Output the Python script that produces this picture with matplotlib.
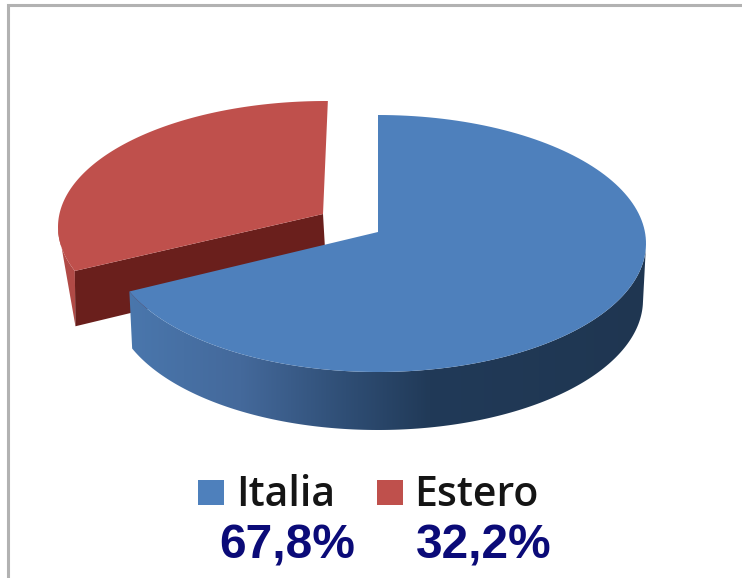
import numpy as np
import matplotlib
matplotlib.use("Agg")
import matplotlib.pyplot as plt
from matplotlib.colors import LinearSegmentedColormap
from matplotlib.patches import Polygon, Rectangle

# Chart data
categories = ["Italia", "Estero"]
shares = [67.8, 32.2]
top_colors = ["#4e80bc", "#bf504c"]

W, H = 742, 578
fig = plt.figure(figsize=(W / 100, H / 100), dpi=100, facecolor="white")
ax = fig.add_axes([0, 0, 1, 1])


def arc(cx, cy, rx, ry, t0, t1, n=160):
    """Points on an ellipse; t is measured clockwise from 12 o'clock, in degrees."""
    t = np.radians(np.linspace(t0, t1, n))
    return np.column_stack([cx + rx * np.sin(t), cy - ry * np.cos(t)])


# Slice angles come from the shares; the tilted view shifts the seam slightly
view_skew = 4.0
split = 360 * shares[0] / sum(shares) + view_skew

# Estero slice, pulled out from the pie
red_top = (326, 227, 268, 126)
red_low = (321, 283, 262, 124)
red_apex = np.array([[323, 214]])
red_t = split + 1.5
tip = arc(*red_top, red_t, red_t, 1)
tip_low = arc(*red_low, red_t, red_t, 1)
ax.add_patch(Polygon(
    np.vstack([arc(*red_top, red_t, 270), tip_low]),
    closed=True, fc="#b14a46", ec="none", zorder=2))
ax.add_patch(Polygon(
    np.vstack([tip, red_apex, [[326, 266]], tip_low]),
    closed=True, fc="#6a1f1c", ec="none", zorder=3))
ax.add_patch(Polygon(
    np.vstack([red_apex, arc(*red_top, red_t, 360.4)]),
    closed=True, fc=top_colors[1], ec="none", zorder=4))

# Italia slice: shaded rim, then the top face
blue_top = (378, 243.5, 268, 128.5)
blue_low = (378, 300, 265, 130)
blue_apex = np.array([[378, 232]])
rim = Polygon(
    np.vstack([arc(*blue_top, 92, split), arc(*blue_low, split, 92)]),
    closed=True, fc="none", ec="none", zorder=5)
ax.add_patch(rim)
rim_cmap = LinearSegmentedColormap.from_list(
    "rim",
    [(0.0, "#4a77ad"), (0.22, "#44699b"), (0.42, "#2f4e75"),
     (0.58, "#213a58"), (1.0, "#1f3651")])
img = ax.imshow(np.linspace(0, 1, 256)[None, :], cmap=rim_cmap, aspect="auto",
                extent=(125, 650, 440, 240), zorder=5, interpolation="bilinear")
img.set_clip_path(rim)
ax.add_patch(Polygon(
    np.vstack([blue_apex, arc(*blue_top, 0, split)]),
    closed=True, fc=top_colors[0], ec="none", zorder=6))

# Frame open toward the right and bottom edges
ax.plot([8, 8, W], [H, 5, 5], color="#b2b2b2", lw=2.2, zorder=1,
        solid_joinstyle="miter")

# Legend with the share printed under each entry
swatch_x = [198, 377]
name_x = [236, 414]
share_x = [287, 484]
for i, name in enumerate(categories):
    ax.add_patch(Rectangle((swatch_x[i], 480), 26, 25, fc=top_colors[i],
                           ec="none", zorder=7))
    ax.text(name_x[i], 506, name, family="Open Sans", weight=600, fontsize=29.5,
            color="#151515", ha="left", va="baseline", zorder=8)
    label = f"{shares[i]:.1f}%".replace(".", ",")
    ax.text(share_x[i], 558, label, family="Liberation Sans", weight="bold",
            fontsize=34.5, color="#0b0b78", ha="center", va="baseline", zorder=8)

ax.set_xlim(0, W)
ax.set_ylim(H, 0)
ax.axis("off")
fig.savefig("out.png", dpi=100, facecolor="white")
